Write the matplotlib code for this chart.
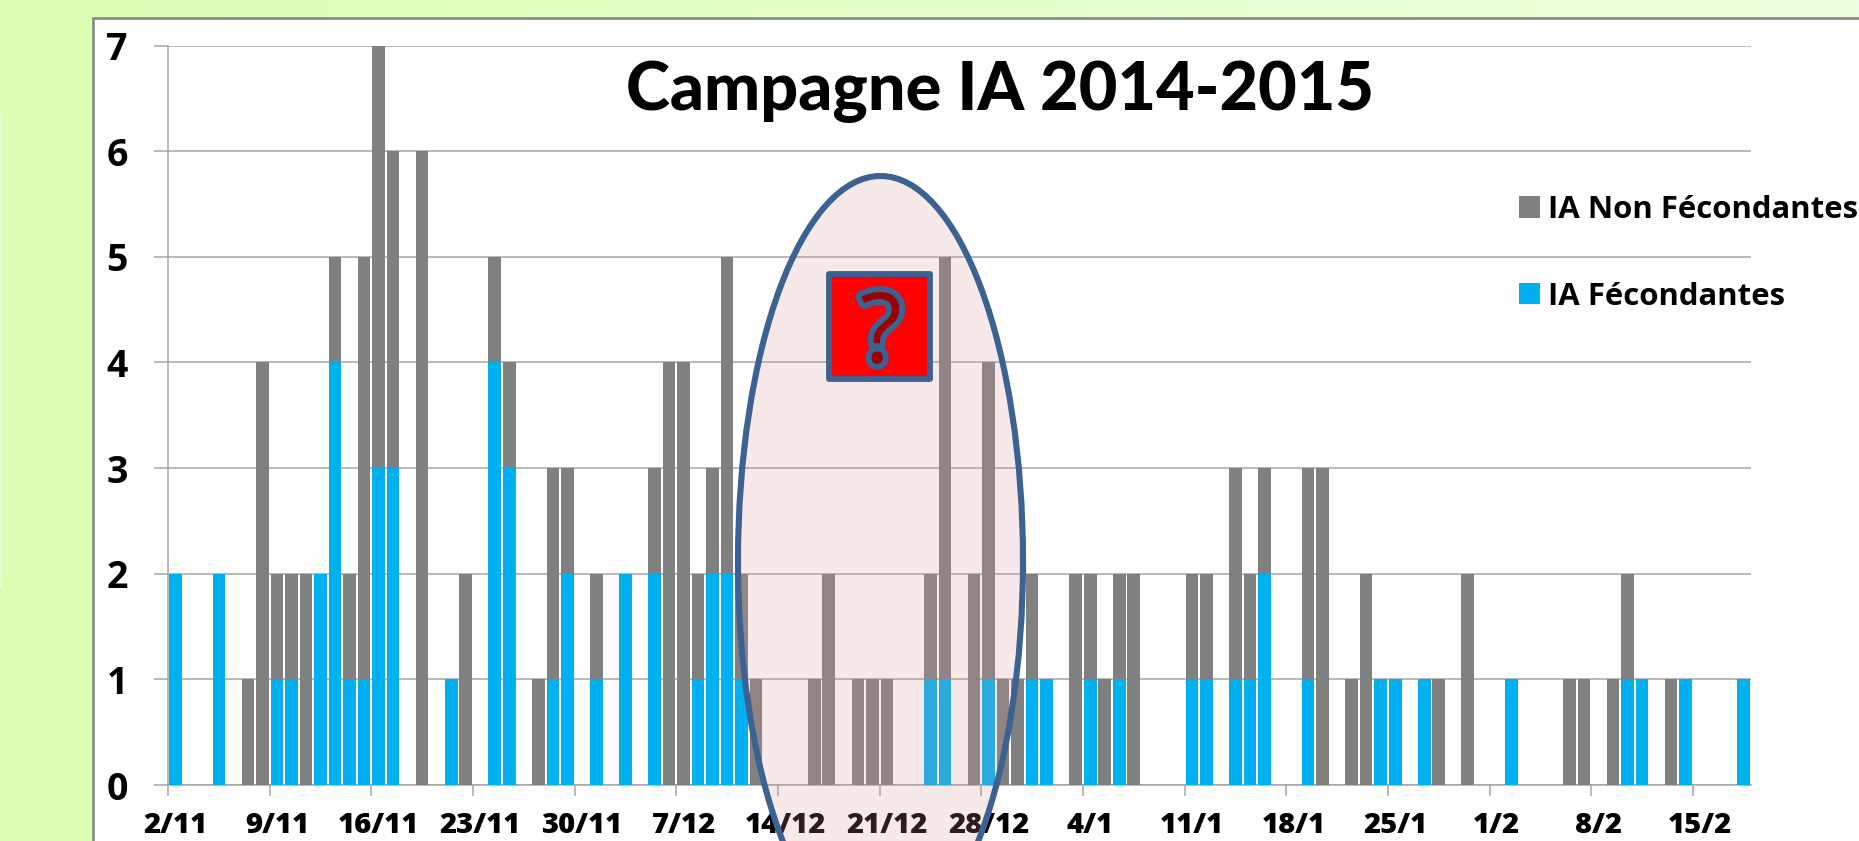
import numpy as np
import matplotlib
matplotlib.use('Agg')
import matplotlib.pyplot as plt
import matplotlib.patheffects as pe
from matplotlib.patches import Rectangle, Ellipse

# IA count per day, starting on 2/11
ia_fecondantes = [
    2, 0, 0, 2, 0, 0, 0, 1, 1, 0,
    2, 4, 1, 1, 3, 3, 0, 0, 0, 1,
    0, 0, 4, 3, 0, 0, 1, 2, 0, 1,
    0, 2, 0, 2, 0, 0, 1, 2, 2, 1,
    0, 0, 0, 0, 0, 0, 0, 0, 0, 0,
    0, 0, 1, 1, 0, 0, 1, 0, 0, 1,
    1, 0, 0, 1, 0, 1, 0, 0, 0, 0,
    1, 1, 0, 1, 1, 2, 0, 0, 1, 0,
    0, 0, 0, 1, 1, 0, 1, 0, 0, 0,
    0, 0, 1, 0, 0, 0, 0, 0, 0, 0,
    1, 1, 0, 0, 1, 0, 0, 0, 1,
]
ia_non_fecondantes = [
    0, 0, 0, 0, 0, 1, 4, 1, 1, 2,
    0, 1, 1, 4, 4, 3, 0, 6, 0, 0,
    2, 0, 1, 1, 0, 1, 2, 1, 0, 1,
    0, 0, 0, 1, 4, 4, 1, 1, 3, 1,
    1, 0, 0, 0, 1, 2, 0, 1, 1, 1,
    0, 0, 1, 4, 0, 2, 3, 1, 1, 1,
    0, 0, 2, 1, 1, 1, 2, 0, 0, 0,
    1, 1, 0, 2, 1, 1, 0, 0, 2, 3,
    0, 1, 2, 0, 0, 0, 0, 1, 0, 2,
    0, 0, 0, 0, 0, 0, 1, 1, 0, 1,
    1, 0, 0, 1, 0, 0, 0, 0, 0,
]
week_labels = ['2/11', '9/11', '16/11', '23/11', '30/11', '7/12', '14/12', '21/12',
               '28/12', '4/1', '11/1', '18/1', '25/1', '1/2', '8/2', '15/2']
y_ticks = [0, 1, 2, 3, 4, 5, 6, 7]

W, H = 1859, 841
GREY = '#808080'
BLUE = '#00B0F0'
GRID = '#A6A6A6'
SHAPE = '#3B6291'
FONT = 'Open Sans'

fig = plt.figure(figsize=(W / 100, H / 100), dpi=100)

# Slide background with the white chart panel
bg = fig.add_axes([0, 0, 1, 1], zorder=0)
bg.set_xlim(0, W)
bg.set_ylim(H, 0)
bg.axis('off')
bg.imshow(np.linspace(0, 1, 256).reshape(1, -1), extent=[0, W, H, 0], aspect='auto',
          cmap=matplotlib.colors.LinearSegmentedColormap.from_list('g', ['#DCFFB4', '#EDFFDE']))
bg.add_patch(Rectangle((0, 22), 93, H, color='#DCFFB4', lw=0))
bg.add_patch(Rectangle((93.5, 17.5), W, H, facecolor='white', edgecolor='#8C8C8C', lw=2))
bg.plot([1, 1], [115, 587], color='#ECFFD6', lw=1.5)

# Chart
ax = fig.add_axes([168 / W, 1 - 785 / H, (1751 - 168) / W, (785 - 45.6) / H], zorder=1)
ax.patch.set_alpha(0)
x = np.arange(len(ia_fecondantes)) + 0.5
ax.bar(x, ia_fecondantes, width=0.87, color=BLUE, zorder=3, label='IA Fécondantes')
ax.bar(x, ia_non_fecondantes, width=0.87, bottom=ia_fecondantes, color=GREY, zorder=3,
       label='IA Non Fécondantes')
ax.set_xlim(0, 109)
ax.set_ylim(0, 7)

for s in ['top', 'right']:
    ax.spines[s].set_visible(False)
for s in ['left', 'bottom']:
    ax.spines[s].set_color(GRID)
    ax.spines[s].set_linewidth(1.1)
ax.grid(axis='y', color=GRID, lw=1.1, zorder=1)
ax.set_axisbelow(True)

ax.set_yticks(y_ticks)
ax.set_yticklabels(y_ticks, fontsize=27, fontweight='bold', family=FONT, color='black')
ax.tick_params(axis='y', length=10, width=1.1, color=GRID, pad=19)

# Ticks fall between days, labels sit on the first day of the week
week_pos = np.arange(len(week_labels)) * 7
ax.set_xticks(week_pos, minor=True)
ax.tick_params(axis='x', which='minor', length=7.7, width=1.1, color=GRID)
ax.set_xticks(week_pos + 0.5)
ax.set_xticklabels(week_labels, fontsize=21, fontweight=800, family=FONT, color='black')
ax.tick_params(axis='x', which='major', length=0, pad=19)

handles, labels = ax.get_legend_handles_labels()
fig.legend(handles[::-1], labels[::-1], loc='upper left', bbox_to_anchor=(1519 / W, 1 - 195 / H),
           frameon=False, borderpad=0, borderaxespad=0, handlelength=0.68, handleheight=0.68,
           handletextpad=0.25, labelspacing=1.82,
           prop={'family': FONT, 'weight': 'bold', 'size': 22.4})

fig.text(1000 / W, 1 - 92 / H, 'Campagne IA 2014-2015', ha='center', va='center',
         fontsize=48, fontweight='black', family='Lato', color='black', zorder=5)

# Shapes drawn over the chart
top = fig.add_axes([0, 0, 1, 1], zorder=2)
top.set_xlim(0, W)
top.set_ylim(H, 0)
top.axis('off')
top.add_patch(Ellipse((880.5, 561), 285, 770, facecolor=(216 / 255, 149 / 255, 149 / 255, 0.2),
                      edgecolor=SHAPE, lw=4.4))
top.add_patch(Rectangle((829.5, 273.5), 101, 105, facecolor='#FF0000', edgecolor=SHAPE, lw=4.2,
                        joinstyle='round'))
top.text(881, 337, '?', ha='center', va='center', fontsize=70, family=FONT, color='#990000',
         path_effects=[pe.withStroke(linewidth=8.5, foreground=SHAPE)])

fig.savefig('out.png', dpi=100)
